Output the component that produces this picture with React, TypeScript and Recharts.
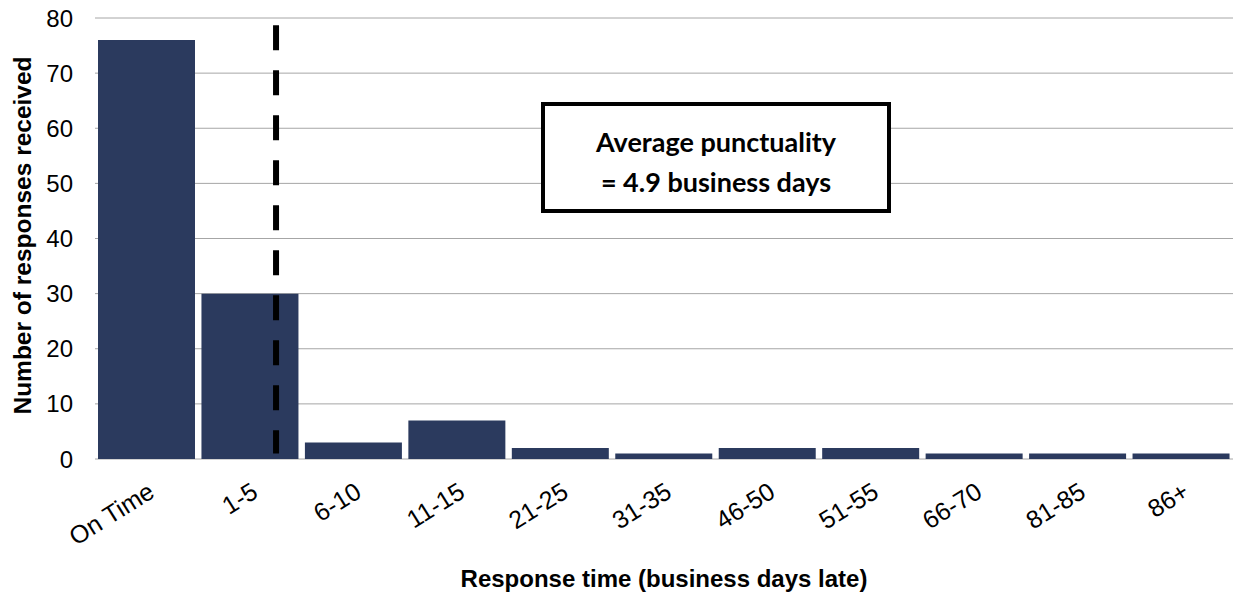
import { Bar, BarChart, CartesianGrid, ReferenceLine, XAxis, YAxis } from 'recharts';

const categories = ['On Time', '1-5', '6-10', '11-15', '21-25', '31-35', '46-50', '51-55', '66-70', '81-85', '86+'];
const responses = [76, 30, 3, 7, 2, 1, 2, 2, 1, 1, 1];
const yTicks = [0, 10, 20, 30, 40, 50, 60, 70, 80];
// average marker, in category-index units on the numeric axis
const averagePos = 1.25;
const averageTop = 78.7;
const averageBottom = 1;

const data = categories.map((name, i) => ({ name, idx: i, responses: responses[i] }));
const boundaryTicks = [...categories.map((_, i) => i - 0.5), categories.length - 0.5];

const barColor = '#2b3a5e';
const gridColor = '#a6a6a6';
const axisFont = '"Liberation Sans", Arial, sans-serif';

function YLabel({ viewBox }: any) {
  const x = viewBox.x + 22;
  const y = viewBox.y + viewBox.height / 2 - 3;
  return (
    <text
      x={x}
      y={y}
      transform={`rotate(-90, ${x}, ${y})`}
      textAnchor="middle"
      dominantBaseline="central"
      fontFamily={axisFont}
      fontWeight="bold"
      fontSize={24.5}
      fill="#000"
    >
      Number of responses received
    </text>
  );
}

export default function App() {
  return (
    <div style={{ position: 'absolute', left: 0, top: 0, width: 1236, height: 601, background: '#fff' }}>
      <BarChart
        width={1236}
        height={601}
        data={data}
        margin={{ top: 18, right: 3, left: 0, bottom: 0 }}
        barCategoryGap={3}
      >
        <CartesianGrid vertical={false} stroke={gridColor} xAxisId={1} />
        <XAxis
          xAxisId={0}
          dataKey="idx"
          type="number"
          domain={[-0.5, categories.length - 0.5]}
          ticks={boundaryTicks}
          tick={false}
          tickSize={7}
          height={0}
          stroke={gridColor}
          allowDataOverflow
        />
        <XAxis
          xAxisId={1}
          dataKey="name"
          axisLine={false}
          tickLine={false}
          height={142}
          interval={0}
          angle={-32}
          textAnchor="end"
          tickMargin={16}
          tick={{ fill: '#000', fontSize: 25, fontFamily: axisFont }}
          label={{
            value: 'Response time (business days late)',
            position: 'insideBottom',
            offset: 14,
            fill: '#000',
            fontSize: 24,
            fontWeight: 'bold',
            fontFamily: axisFont,
          }}
        />
        <YAxis
          width={95}
          domain={[0, 80]}
          ticks={yTicks}
          axisLine={false}
          tickLine={false}
          tickMargin={16}
          tick={{ fill: '#000', fontSize: 24, fontFamily: axisFont }}
          label={<YLabel />}
        />
        <Bar dataKey="responses" xAxisId={1} fill={barColor} isAnimationActive={false} />
        <ReferenceLine
          xAxisId={0}
          segment={[
            { x: averagePos, y: averageTop },
            { x: averagePos, y: averageBottom },
          ]}
          stroke="#000"
          strokeWidth={6}
          strokeDasharray="25 20"
        />
      </BarChart>
      <div
        style={{
          position: 'absolute',
          left: 541,
          top: 102,
          width: 350,
          height: 111,
          boxSizing: 'border-box',
          border: '4px solid #000',
          background: '#fff',
          display: 'flex',
          flexDirection: 'column',
          justifyContent: 'center',
          alignItems: 'center',
          paddingTop: 8,
          fontFamily: 'Lato, "Open Sans", sans-serif',
          fontWeight: 'bold',
          fontSize: 27,
          lineHeight: '40px',
          color: '#000',
        }}
      >
        <div>Average punctuality</div>
        <div>= 4.9 business days</div>
      </div>
    </div>
  );
}
